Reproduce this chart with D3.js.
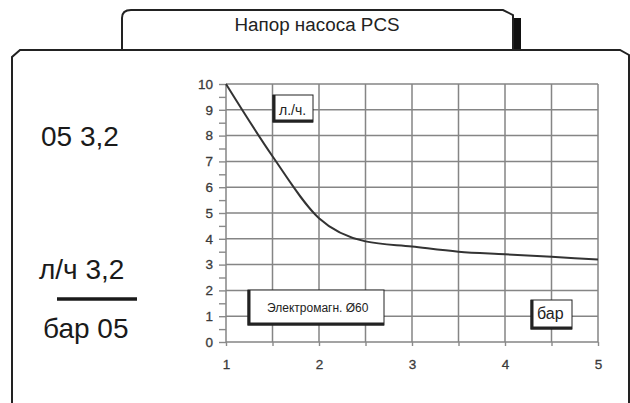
<!doctype html>
<html lang="ru">
<head>
<meta charset="utf-8">
<title>Напор насоса PCS</title>
<script src="https://d3js.org/d3.v7.min.js"></script>
<style>
  body { margin: 0; background: #fff; }
  svg { display: block; font-family: "Liberation Sans", Arial, sans-serif; }
  .axis path { display: none; }
  .axis line { stroke: #8a8a8a; stroke-width: 1.4px; }
</style>
</head>
<body>
<svg id="main" width="630" height="403"></svg>
<script>
// curve data: pressure (bar) -> flow (l/h)
let pressure = [1, 1.5, 2, 2.5, 3, 3.5, 4, 4.5, 5];
let flow = [10, 7.2, 4.8, 3.9, 3.7, 3.5, 3.4, 3.3, 3.2];
let xTicks = [1, 1.5, 2, 2.5, 3, 3.5, 4, 4.5, 5];
let yTicks = [0, 0.5, 1, 1.5, 2, 2.5, 3, 3.5, 4, 4.5, 5, 5.5, 6, 6.5, 7, 7.5, 8, 8.5, 9, 9.5, 10];
let title = "Напор насоса PCS";
let sideLabels = ["05 3,2", "л/ч 3,2", "бар 05"];

let svg = d3.select('#main');
let x = d3.scaleLinear().domain([1, 5]).range([226, 598]);
let y = d3.scaleLinear().domain([0, 10]).range([342, 84]);

// --- frames
// title tab
svg.append('rect').attr('x', 513).attr('y', 18).attr('width', 8).attr('height', 32).attr('fill', '#111');
svg.append('path')
  .attr('d', 'M122,50 L122,18 Q122,10 131,10 L503,10 L513,15 L513,50')
  .attr('fill', 'none').attr('stroke', '#222').attr('stroke-width', 2);
svg.append('text').attr('x', 317).attr('y', 31).attr('text-anchor', 'middle')
  .attr('font-size', 18).attr('fill', '#222')
  .attr('textLength', 165).attr('lengthAdjust', 'spacingAndGlyphs')
  .text(title);

// main frame
svg.append('path')
  .attr('d', 'M12,403 L12,57 L20,50 L620,50 L629,55 L629,403')
  .attr('fill', 'none').attr('stroke', '#222').attr('stroke-width', 2);

// --- grid
let grid = svg.append('g').attr('stroke', '#858585').attr('stroke-width', 1.5);
grid.selectAll('.vg').data(xTicks).join('line')
  .attr('x1', d => x(d)).attr('x2', d => x(d))
  .attr('y1', y(10)).attr('y2', y(0));
grid.selectAll('.hg').data(yTicks.filter(d => d % 1 === 0)).join('line')
  .attr('x1', x(1)).attr('x2', x(5))
  .attr('y1', d => y(d)).attr('y2', d => y(d));

// axes
svg.append('g').attr('class', 'axis')
  .attr('transform', `translate(${x(1)},0)`)
  .call(d3.axisLeft(y).tickValues(yTicks).tickSize(7).tickPadding(6)
    .tickFormat(d => d % 1 === 0 ? d : ''));
svg.append('g').attr('class', 'axis')
  .attr('transform', `translate(0,${y(0)})`)
  .call(d3.axisBottom(x).tickValues(xTicks).tickSize(4).tickPadding(13)
    .tickFormat(d => d % 1 === 0 ? d : ''));
svg.selectAll('.axis').attr('font-size', 13.5).attr('font-family', '"Liberation Sans", Arial, sans-serif');
svg.selectAll('.axis text').attr('fill', '#3a3a3a').attr('stroke', '#3a3a3a').attr('stroke-width', 0.3);

// --- curve
let line = d3.line().x(d => x(d[0])).y(d => y(d[1])).curve(d3.curveMonotoneX);
svg.append('path').datum(d3.zip(pressure, flow))
  .attr('d', line).attr('fill', 'none')
  .attr('stroke', '#333').attr('stroke-width', 2);

// --- label boxes with shadow on left and bottom
function box(x0, y0, w, h, label, fs, tx, ty) {
  svg.append('rect').attr('x', x0).attr('y', y0).attr('width', w).attr('height', h)
    .attr('fill', '#fff').attr('stroke', '#222').attr('stroke-width', 1);
  svg.append('path')
    .attr('d', `M${x0 + 1},${y0} L${x0 + 1},${y0 + h - 1} L${x0 + w},${y0 + h - 1}`)
    .attr('fill', 'none').attr('stroke', '#222').attr('stroke-width', 3);
  svg.append('text').attr('x', tx).attr('y', ty).attr('font-size', fs).attr('fill', '#222').text(label);
}
box(273, 95, 40, 27, 'л./ч.', 14, 279, 115);
box(248, 290, 136, 35, 'Электромагн. Ø60', 12, 267, 312);
box(531, 300, 41, 29, 'бар', 16, 537, 319);

// --- side labels
let side = svg.append('g').attr('font-size', 28).attr('fill', '#1a1a1a');
side.append('text').attr('x', 41).attr('y', 146).text(sideLabels[0]);
side.append('text').attr('x', 39).attr('y', 279).text(sideLabels[1]);
side.append('text').attr('x', 43).attr('y', 338).text(sideLabels[2]);
svg.append('line').attr('x1', 57).attr('x2', 137).attr('y1', 299).attr('y2', 299)
  .attr('stroke', '#1a1a1a').attr('stroke-width', 3.5);
</script>
</body>
</html>
